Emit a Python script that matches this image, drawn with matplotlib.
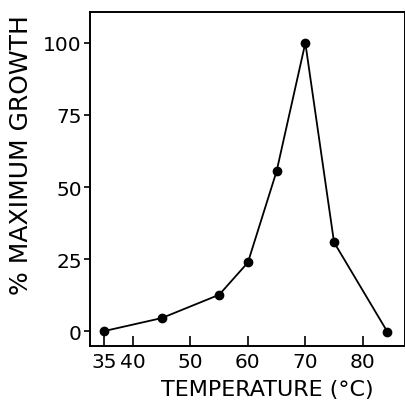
import matplotlib
matplotlib.use('Agg')
import matplotlib.pyplot as plt

temperature = [35, 45, 55, 60, 65, 70, 75, 84.3]
growth = [0, 4.5, 12.6, 23.8, 55.5, 100, 30.8, -0.3]
xticks = [35, 40, 50, 60, 70, 80]
yticks = [0, 25, 50, 75, 100]

plt.rcParams['font.family'] = ['DejaVu Sans']

fig = plt.figure(figsize=(4.06, 4.06), dpi=100)
ax = fig.add_axes([0.2217, 0.1453, 0.775, 0.823])

ax.plot(temperature, growth, color='black', linewidth=1.3,
        marker='o', markersize=6, markerfacecolor='black')

ax.set_xlim(32.5, 87.3)
ax.set_ylim(-5.2, 110.8)
ax.set_xticks(xticks)
ax.set_yticks(yticks)

ax.tick_params(axis='x', direction='in', length=7, width=1.2,
               labelsize=14.5, pad=4)
ax.tick_params(axis='y', direction='out', length=4, width=1.2,
               labelsize=14.5, pad=2)
for s in ax.spines.values():
    s.set_linewidth(1.4)

ax.set_xlabel('TEMPERATURE (°C)', fontsize=16)
ax.xaxis.set_label_coords(0.565, -0.1)
ax.set_ylabel('% MAXIMUM GROWTH', fontsize=18)
ax.yaxis.set_label_coords(-0.181, 0.575)

fig.savefig('out.png', dpi=100, facecolor='white')
